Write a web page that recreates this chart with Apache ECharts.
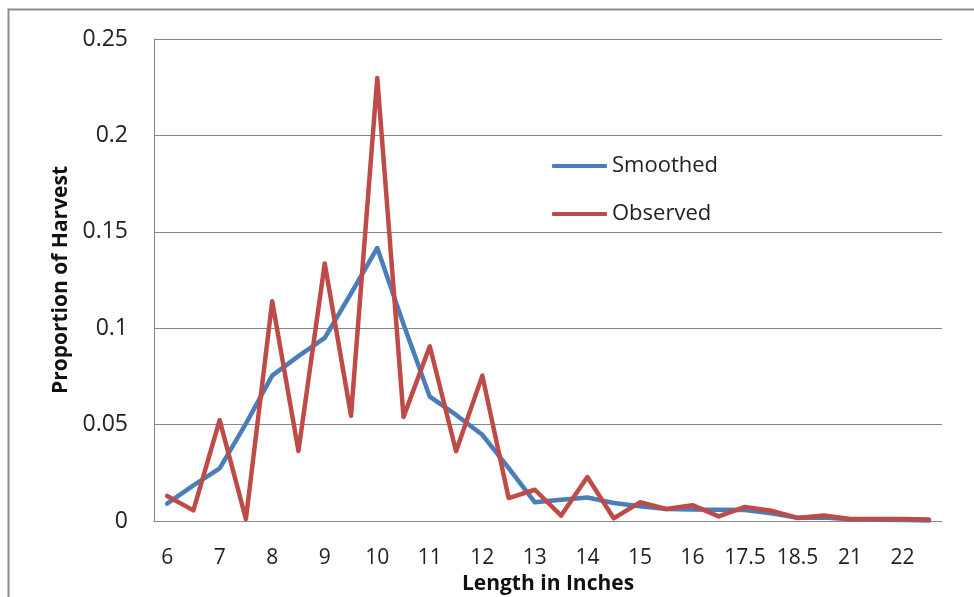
<!DOCTYPE html>
<html>
<head>
<meta charset="utf-8">
<script src="https://cdn.jsdelivr.net/npm/echarts@6/dist/echarts.min.js"></script>
<style>
  html, body { margin: 0; padding: 0; background: #ffffff; }
  #chart { width: 974px; height: 597px; }
</style>
</head>
<body>
<div id="chart"></div>
<script>
// Length categories (inches)
var categories = ['6','6.5','7','7.5','8','8.5','9','9.5','10','10.5','11','11.5','12','12.5','13','13.5','14','14.5','15','15.5','16','16.5','17.5','18','18.5','20','21','21.5','22','22.5'];

// Smoothed proportion of harvest
var smoothed = [0.009, 0.0185, 0.0273, 0.0505, 0.0754, 0.0855, 0.095, 0.118, 0.1416, 0.102, 0.0645, 0.055, 0.0447, 0.0275, 0.0097, 0.011, 0.0122, 0.0093, 0.0077, 0.0062, 0.0059, 0.0058, 0.0057, 0.004, 0.0017, 0.0018, 0.0009, 0.0007, 0.0005, 0.0002];

// Observed proportion of harvest
var observed = [0.013, 0.0055, 0.0523, 0.001, 0.114, 0.0363, 0.1336, 0.0546, 0.2298, 0.054, 0.0906, 0.0362, 0.0754, 0.0119, 0.0162, 0.0028, 0.0228, 0.0014, 0.0097, 0.0062, 0.0082, 0.0024, 0.0073, 0.0053, 0.0016, 0.0029, 0.001, 0.001, 0.001, 0.0008];

var seriesNames = ['Smoothed', 'Observed'];
var xTitle = 'Length in Inches';
var yTitle = 'Proportion of Harvest';

var FONT = '"Open Sans", "Liberation Sans", sans-serif';
var chart = echarts.init(document.getElementById('chart'), null, { renderer: 'canvas' });

chart.setOption({
  animation: false,
  backgroundColor: '#ffffff',
  color: ['#4A7EBB', '#BE4B48'],
  graphic: [{
    type: 'rect',
    silent: true,
    shape: { x: 8.5, y: 9.5, width: 1000, height: 700 },
    style: { fill: 'none', stroke: '#8c8c8c', lineWidth: 2 }
  }],
  grid: { left: 154, right: 32, top: 39, bottom: 76, containLabel: false, outerBoundsMode: 'none' },
  legend: {
    orient: 'vertical',
    left: 547,
    top: 150,
    itemWidth: 55,
    itemHeight: 4,
    itemGap: 26,
    icon: 'roundRect',
    textStyle: { fontFamily: FONT, fontSize: 22, color: '#222222' },
    data: seriesNames
  },
  xAxis: {
    type: 'category',
    data: categories,
    boundaryGap: true,
    name: xTitle,
    nameLocation: 'middle',
    nameGap: 48,
    nameTextStyle: { fontFamily: FONT, fontSize: 21, fontWeight: 'bold', color: '#111111' },
    axisLine: { show: true, lineStyle: { color: '#868686', width: 1 } },
    axisTick: { show: false },
    axisLabel: { interval: 1, margin: 27, fontFamily: FONT, fontSize: 21, color: '#222222' },
    splitLine: { show: false }
  },
  yAxis: {
    type: 'value',
    min: 0,
    max: 0.25,
    interval: 0.05,
    name: yTitle,
    nameLocation: 'middle',
    nameGap: 82,
    nameTextStyle: { fontFamily: FONT, fontSize: 21, fontWeight: 'bold', color: '#111111' },
    axisLine: { show: true, lineStyle: { color: '#868686', width: 1 } },
    axisTick: { show: false },
    axisLabel: { margin: 26, fontFamily: FONT, fontSize: 23, color: '#222222' },
    splitLine: { show: true, lineStyle: { color: '#868686', width: 1 } }
  },
  series: [
    {
      name: seriesNames[0],
      type: 'line',
      data: smoothed,
      showSymbol: false,
      symbol: 'none',
      lineStyle: { width: 4.5, cap: 'round', join: 'round' }
    },
    {
      name: seriesNames[1],
      type: 'line',
      data: observed,
      showSymbol: false,
      symbol: 'none',
      lineStyle: { width: 4.5, cap: 'round', join: 'round' }
    }
  ]
});
</script>
</body>
</html>
